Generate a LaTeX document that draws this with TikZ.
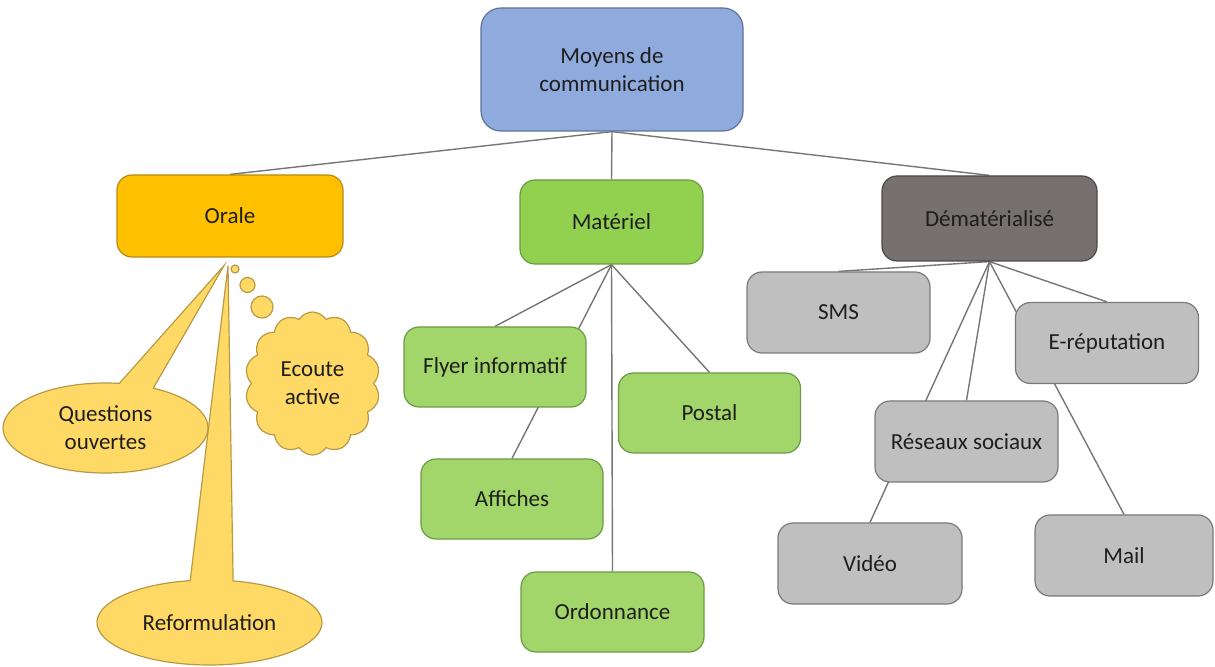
\documentclass[tikz,border=0pt]{standalone}
\usepackage{fontspec}
\setmainfont{Carlito}
\usetikzlibrary{shapes.callouts,shapes.symbols,calc}
\pgfdeclarelayer{background}
\pgfsetlayers{background,main}

\definecolor{topfill}{HTML}{8FAADC}
\definecolor{topdraw}{HTML}{5F7297}
\definecolor{oralfill}{HTML}{FFC000}
\definecolor{oraldraw}{HTML}{B58B10}
\definecolor{matfill}{HTML}{92D050}
\definecolor{leaffill}{HTML}{A2D66A}
\definecolor{greendraw}{HTML}{6C9A44}
\definecolor{demfill}{HTML}{767070}
\definecolor{demdraw}{HTML}{4E4848}
\definecolor{grayfill}{HTML}{BFBFBF}
\definecolor{graydraw}{HTML}{7A7A7A}
\definecolor{bubblefill}{HTML}{FFD966}
\definecolor{bubbledraw}{HTML}{B89A45}
\definecolor{linkcol}{HTML}{767676}
\definecolor{txt}{HTML}{1E1E1E}

\begin{document}
\begin{tikzpicture}[x=0.5pt,y=-0.5pt,
  every node/.style={font=\fontsize{11.5}{14}\selectfont, text=txt, align=center},
  box/.style={rectangle, rounded corners=7.5pt, line width=0.6pt, inner sep=2pt},
  topbox/.style={box, rounded corners=10pt, fill=topfill, draw=topdraw},
  oralbox/.style={box, fill=oralfill, draw=oraldraw},
  matbox/.style={box, fill=matfill, draw=greendraw},
  leafgreen/.style={box, fill=leaffill, draw=greendraw, minimum width=91pt, minimum height=40pt},
  dembox/.style={box, fill=demfill, draw=demdraw},
  leafgray/.style={box, fill=grayfill, draw=graydraw, minimum width=91.5pt, minimum height=40.5pt},
  bubble/.style={fill=bubblefill, draw=bubbledraw, line width=0.6pt, inner sep=0pt},
  puff/.style={bubble, circle, minimum size=#1},
  link/.style={draw=linkcol, line width=0.7pt}
]
\useasboundingbox (0,0) rectangle (1215,667);

% level 0 and 1
\node[topbox, minimum width=131pt, minimum height=61.5pt] (top) at (612,69.5) {Moyens de\\communication};
\node[oralbox, minimum width=113pt, minimum height=41pt] (orale) at (230,216) {Orale};
\node[matbox, minimum width=91.5pt, minimum height=42pt] (mat) at (611.5,222) {Matériel};
\node[dembox, minimum width=107.5pt, minimum height=42.5pt] (dem) at (989.5,218.5) {Dématérialisé};

% printed media
\node[leafgreen] (postal) at (709.5,413) {Postal};
\node[leafgreen] (affiches) at (512,499) {Affiches};
\node[leafgreen, minimum width=91.5pt] (ordo) at (612.5,612) {Ordonnance};

% digital media
\node[leafgray] (sms) at (838.5,312.5) {SMS};
\node[leafgray, minimum width=92pt] (video) at (870,563.5) {Vidéo};
\node[leafgray, minimum width=89pt] (mail) at (1124,555.5) {Mail};

% oral techniques as speech and thought bubbles
\node[bubble, ellipse callout, minimum width=102.5pt, minimum height=45pt,
      callout pointer arc=20,
      callout absolute pointer={($(orale.south)+(-6,8)$)}] (questions) at (105.5,428) {Questions\\ouvertes};
\node[bubble, ellipse callout, minimum width=112.5pt, minimum height=42.5pt,
      callout pointer arc=22,
      callout absolute pointer={($(orale.south)+(-2,8)$)}] (reform) at (209.5,622.5) {Reformulation};
\node[bubble, cloud, cloud puffs=14, cloud puff arc=115, aspect=0.95,
      minimum width=67.5pt, minimum height=71.5pt] (ecoute) at (312.5,383.5) {Ecoute\\active};
\node[puff=4pt] (puffa) at (235,269) {};
\node[puff=7.5pt] (puffb) at (247.5,285) {};
\node[puff=11pt] (puffc) at (262,307) {};

% boxes drawn over links that pass behind them
\node[leafgreen] (flyer) at (495,367) {Flyer informatif};
\node[leafgray] (ereput) at (1107,343) {E-réputation};
\node[leafgray] (reseaux) at (966.5,441.5) {Réseaux sociaux};

\begin{pgfonlayer}{background}
  \draw[link] (top.south) -- (orale.north);
  \draw[link] (top.south) -- (mat.north);
  \draw[link] (top.south) -- (dem.north);
  \draw[link] (mat.south) -- (flyer.north);
  \draw[link] (mat.south) -- (affiches.north);
  \draw[link] (mat.south) -- (postal.north);
  \draw[link] (mat.south) -- (ordo.north);
  \draw[link] (dem.south) -- (sms.north);
  \draw[link] (dem.south) -- (ereput.north);
  \draw[link] (dem.south) -- (reseaux.north);
  \draw[link] (dem.south) -- (video.north);
  \draw[link] (dem.south) -- (mail.north);
\end{pgfonlayer}
\end{tikzpicture}
\end{document}
